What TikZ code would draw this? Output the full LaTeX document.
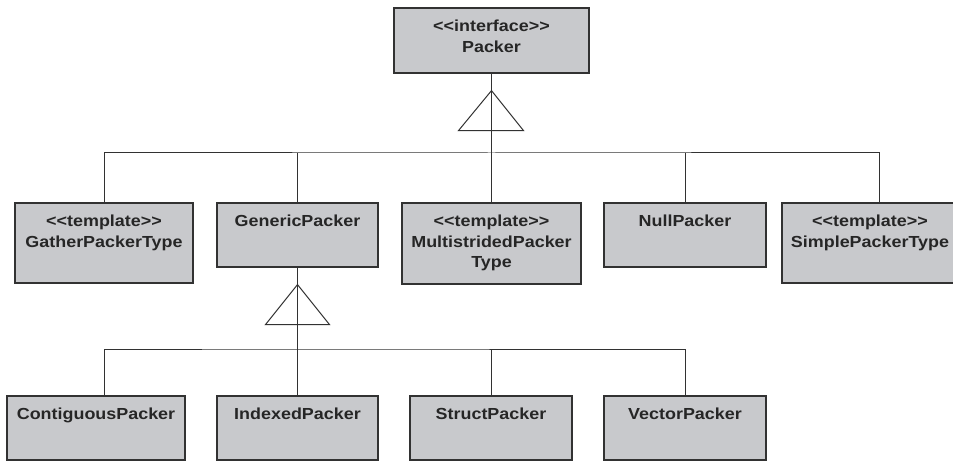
\documentclass[tikz,border=0pt]{standalone}
\usepackage{fontspec}
\setmainfont{Liberation Sans}[FakeStretch=1.12, Ligatures=TeXOff]
\definecolor{boxgray}{RGB}{200,201,204}
\definecolor{linegray}{RGB}{50,50,50}
\tikzset{
    box/.style={draw=linegray, line width=1.6pt, fill=boxgray, anchor=north, inner sep=0pt,
        align=center, text=black!85, font=\fontsize{16}{20.5}\selectfont\bfseries},
    short/.style={text height=24pt, text depth=40pt},
    tall/.style={text height=44.5pt, text depth=35.5pt},
    link/.style={draw=linegray, line width=1pt}
}
\begin{document}
\begin{tikzpicture}[x=1pt, y=-1pt]
    \useasboundingbox (0,0) rectangle (953,462);

    \node[box, minimum width=195pt, text height=44.5pt, text depth=20.5pt] (packer) at (491.5,7) {<<interface>>\\Packer};

    \node[box, tall, minimum width=178pt] (gather) at (104,202) {<<template>>\\GatherPackerType};
    \node[box, short, minimum width=161pt] (generic) at (297.5,202) {GenericPacker};
    \node[box, minimum width=179pt, text height=65pt, text depth=16pt] (multi) at (491.5,202) {<<template>>\\MultistridedPacker\\Type};
    \node[box, short, minimum width=162pt] (null) at (685,202) {NullPacker};
    \node[box, tall, minimum width=176pt] (simple) at (870,202) {<<template>>\\SimplePackerType};

    \node[box, short, minimum width=178pt] (contig) at (96,395) {ContiguousPacker};
    \node[box, short, minimum width=161pt] (indexed) at (297.5,395) {IndexedPacker};
    \node[box, short, minimum width=162pt] (struct) at (491,395) {StructPacker};
    \node[box, short, minimum width=162pt] (vector) at (685,395) {VectorPacker};

    \coordinate (bus1) at (491.5,153);
    \coordinate (bus2) at (297.5,349);
    \coordinate (simpletop) at (879,202);
    \coordinate (contigtop) at (104,395);

    % generalisation from the first row
    \draw[link] (packer.south) -- (bus1);
    \draw[link] (packer.south) ++(0,17) -- ++(-33,40) -- ++(65,0) -- cycle;
    \draw[link] (gather.north) |- (bus1) -| (simpletop);
    \draw[link] (generic.north) -- (generic.north |- bus1);
    \draw[link] (multi.north) -- (bus1);
    \draw[link] (null.north) -- (null.north |- bus1);

    % generalisation from the second row
    \draw[link] (generic.south) -- (bus2);
    \draw[link] (generic.south) ++(0,17) -- ++(-32,40) -- ++(64,0) -- cycle;
    \draw[link] (contigtop) |- (bus2) -| (vector.north);
    \draw[link] (indexed.north) -- (bus2);
    \draw[link] (struct.north) -- (struct.north |- bus2);
\end{tikzpicture}
\end{document}
